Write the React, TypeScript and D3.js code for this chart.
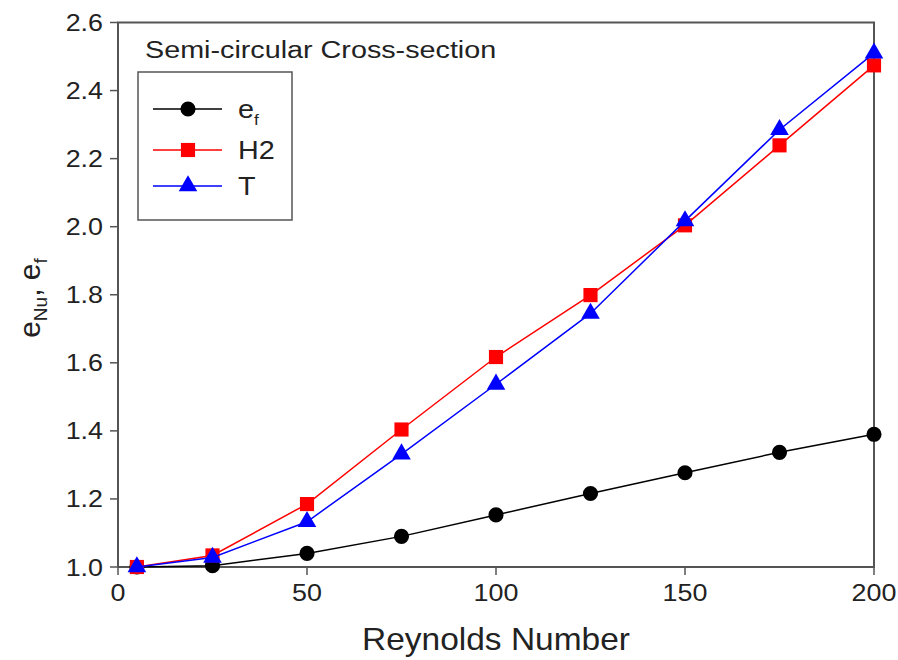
import React from "react";
import * as d3 from "d3";

const reynolds = [5, 25, 50, 75, 100, 125, 150, 175, 200];
const efValues = [1.0, 1.004, 1.04, 1.09, 1.153, 1.216, 1.277, 1.337, 1.39];
const h2Values = [1.0, 1.034, 1.185, 1.404, 1.617, 1.799, 2.004, 2.239, 2.474];
const tValues = [1.0, 1.028, 1.133, 1.332, 1.537, 1.745, 2.017, 2.285, 2.51];
const xTicks = [0, 50, 100, 150, 200];
const yTicks = [1.0, 1.2, 1.4, 1.6, 1.8, 2.0, 2.2, 2.4, 2.6];
const legendLabels = ["e", "H2", "T"];

const W = 898;
const H = 660;
const FONT = "Liberation Sans, Arial, sans-serif";

export default function App() {
  const x = d3.scaleLinear().domain([0, 200]).range([118, 874]);
  const y = d3.scaleLinear().domain([1.0, 2.6]).range([567, 22.5]);

  const series = [
    { values: efValues, color: "#000000", marker: "circle" },
    { values: h2Values, color: "#ff0000", marker: "square" },
    { values: tValues, color: "#0000ff", marker: "triangle" },
  ];

  const lineGen = (vals: number[]) =>
    d3
      .line<number>()
      .x((_, i) => x(reynolds[i]))
      .y((d) => y(d))(vals) || "";

  const sym = {
    circle: d3.symbol().type(d3.symbolCircle).size(180)() || "",
    square: d3.symbol().type(d3.symbolSquare).size(200)() || "",
    triangle: d3.symbol().type(d3.symbolTriangle).size(150)() || "",
  } as Record<string, string>;

  const frame = "#555555";
  const sx = 1.12;

  return (
    <svg width={W} height={H} style={{ display: "block", position: "absolute", left: 0, top: 0, background: "#fff" }}>
      <rect x={0} y={0} width={W} height={H} fill="#fff" />
      {/* frame */}
      <rect x={118} y={22.5} width={756} height={544.5} fill="none" stroke={frame} strokeWidth={2} />
      {/* y ticks */}
      {yTicks.map((t) => (
        <g key={"y" + t}>
          <line x1={110} x2={118} y1={y(t)} y2={y(t)} stroke={frame} strokeWidth={1.5} />
          <text
            transform={`translate(103,${y(t) + 8.5}) scale(${sx},1)`}
            textAnchor="end"
            fontFamily={FONT}
            fontSize={24}
            fill="#222"
          >
            {t.toFixed(1)}
          </text>
        </g>
      ))}
      {/* x ticks */}
      {xTicks.map((t) => (
        <g key={"x" + t}>
          <line x1={x(t)} x2={x(t)} y1={567} y2={575} stroke={frame} strokeWidth={1.5} />
          <text
            transform={`translate(${x(t)},${601}) scale(${sx},1)`}
            textAnchor="middle"
            fontFamily={FONT}
            fontSize={24}
            fill="#222"
          >
            {t}
          </text>
        </g>
      ))}
      {/* axis titles */}
      <text
        transform={`translate(496,650) scale(1.08,1)`}
        textAnchor="middle"
        fontFamily={FONT}
        fontSize={31}
        fill="#222"
      >
        Reynolds Number
      </text>
      <text
        transform={`translate(40,298) rotate(-90)`}
        textAnchor="middle"
        fontFamily={FONT}
        fontSize={30}
        fill="#222"
      >
        e<tspan fontSize={19} dy={7}>Nu</tspan>
        <tspan dy={-7}>, e</tspan>
        <tspan fontSize={19} dy={7}>f</tspan>
      </text>
      {/* data */}
      {series.map((s, si) => (
        <g key={"s" + si}>
          <path d={lineGen(s.values)} fill="none" stroke={s.color} strokeWidth={1.5} />
          {s.values.map((v, i) => (
            <path
              key={i}
              d={sym[s.marker]}
              transform={`translate(${x(reynolds[i])},${y(v)})`}
              fill={s.color}
            />
          ))}
        </g>
      ))}
      {/* title */}
      <text
        transform={`translate(145,58) scale(1.25,1)`}
        fontFamily={FONT}
        fontSize={23}
        fill="#222"
      >
        Semi-circular Cross-section
      </text>
      {/* legend */}
      <rect x={138} y={72} width={154} height={148} fill="#fff" stroke={frame} strokeWidth={1.5} />
      {series.map((s, i) => {
        const cy = [109, 150, 186][i];
        return (
          <g key={"l" + i}>
            <line x1={153} x2={222} y1={cy} y2={cy} stroke={s.color} strokeWidth={1.5} />
            <path d={sym[s.marker]} transform={`translate(188,${cy})`} fill={s.color} />
            <text
              transform={`translate(238,${cy + 9}) scale(1.15,1)`}
              fontFamily={FONT}
              fontSize={25}
              fill="#222"
            >
              {legendLabels[i]}
              {i === 0 ? (
                <tspan fontSize={15} dy={7}>
                  f
                </tspan>
              ) : null}
            </text>
          </g>
        );
      })}
    </svg>
  );
}
